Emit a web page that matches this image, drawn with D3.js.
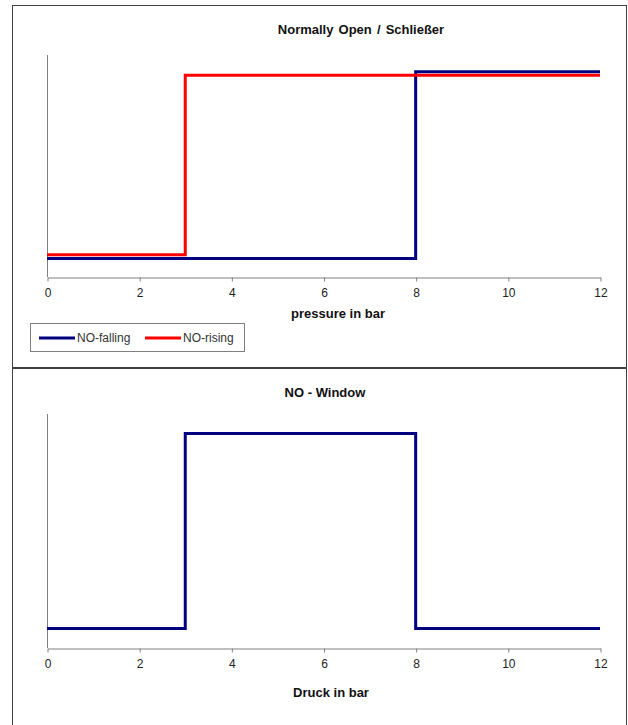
<!DOCTYPE html>
<html>
<head>
<meta charset="utf-8">
<script src="https://cdn.jsdelivr.net/npm/d3@7"></script>
<style>
  body { margin: 0; background: #fff; }
  svg { display: block; font-family: "Liberation Sans", Arial, sans-serif; }
</style>
</head>
<body>
<div id="chart"></div>
<script>
// pressure values (bar) where switching state is read
const pressureTicks = [0, 2, 4, 6, 8, 10, 12];

// step series: pressure points and switch state
const fallingX = [0, 8, 8, 12];
const fallingY = [0.1, 0.1, 1.11, 1.11];
const risingX = [0, 3, 3, 12];
const risingY = [0.12, 0.12, 1.09, 1.09];
const windowX = [0, 3, 3, 8, 8, 12];
const windowY = [0.1, 0.1, 1.1, 1.1, 0.1, 0.1];

const seriesNames = ['NO-falling', 'NO-rising'];
const colors = { 'NO-falling': '#000080', 'NO-rising': '#ff0000', 'window': '#000080' };

const width = 628, height = 725;
const svg = d3.select('#chart').append('svg').attr('width', width).attr('height', height);

// panel frames
svg.append('rect').attr('x', 12.5).attr('y', 5.5).attr('width', 614).attr('height', 362)
  .attr('fill', 'none').attr('stroke', '#404040');
svg.append('rect').attr('x', 12.5).attr('y', 368.5).attr('width', 614).attr('height', 360)
  .attr('fill', 'none').attr('stroke', '#404040');

function panel(top, bottom, title, titleX, titleY, spacing, label, labelX, labelY, series) {
  const x = d3.scaleLinear().domain([0, 12]).range([47, 600]);
  const y = d3.scaleLinear().domain([0, 1.2]).range([bottom, top]);
  const g = svg.append('g');

  g.append('text').attr('x', titleX).attr('y', titleY).attr('text-anchor', 'middle')
    .attr('font-size', 13).attr('font-weight', 'bold').attr('word-spacing', spacing).attr('fill', '#111')
    .text(title);

  // y axis line (no ticks)
  g.append('line').attr('x1', 47.5).attr('x2', 47.5).attr('y1', top).attr('y2', bottom)
    .attr('stroke', '#808080');

  const xAxis = g.append('g').attr('transform', `translate(0.5,${bottom + 0.5})`)
    .call(d3.axisBottom(x).tickValues(pressureTicks).tickSize(4).tickSizeOuter(0).tickPadding(7));
  xAxis.select('.domain').attr('stroke', '#808080');
  xAxis.selectAll('.tick line').attr('stroke', '#808080');
  xAxis.selectAll('.tick text').attr('font-size', 12).attr('fill', '#222')
    .attr('font-family', '"Liberation Sans", Arial, sans-serif');

  g.append('text').attr('x', labelX).attr('y', labelY).attr('text-anchor', 'middle')
    .attr('font-size', 13).attr('font-weight', 'bold').attr('fill', '#111').text(label);

  const line = d3.line().x(d => x(d[0])).y(d => y(d[1]));
  series.forEach(s => {
    g.append('path').datum(d3.zip(s.xs, s.ys))
      .attr('d', line).attr('fill', 'none').attr('stroke', s.color)
      .attr('stroke-width', 3).attr('stroke-linejoin', 'miter');
  });
}

panel(55, 277, 'Normally Open / Schließer', 361, 34, 1.5, 'pressure in bar', 338, 318, [
  { xs: fallingX, ys: fallingY, color: colors['NO-falling'] },
  { xs: risingX, ys: risingY, color: colors['NO-rising'] }
]);

panel(414, 648, 'NO - Window', 325, 397, 0, 'Druck in bar', 331, 697, [
  { xs: windowX, ys: windowY, color: colors['window'] }
]);

// legend
const legend = svg.append('g');
legend.append('rect').attr('x', 30.5).attr('y', 323.5).attr('width', 214).attr('height', 28)
  .attr('fill', '#fff').attr('stroke', '#808080');
const legendPos = [39, 145];
seriesNames.forEach((name, i) => {
  legend.append('line').attr('x1', legendPos[i]).attr('x2', legendPos[i] + 36)
    .attr('y1', 338).attr('y2', 338).attr('stroke', colors[name]).attr('stroke-width', 3);
  legend.append('text').attr('x', legendPos[i] + 38).attr('y', 342)
    .attr('font-size', 12).attr('fill', '#333').text(name);
});
</script>
</body>
</html>
